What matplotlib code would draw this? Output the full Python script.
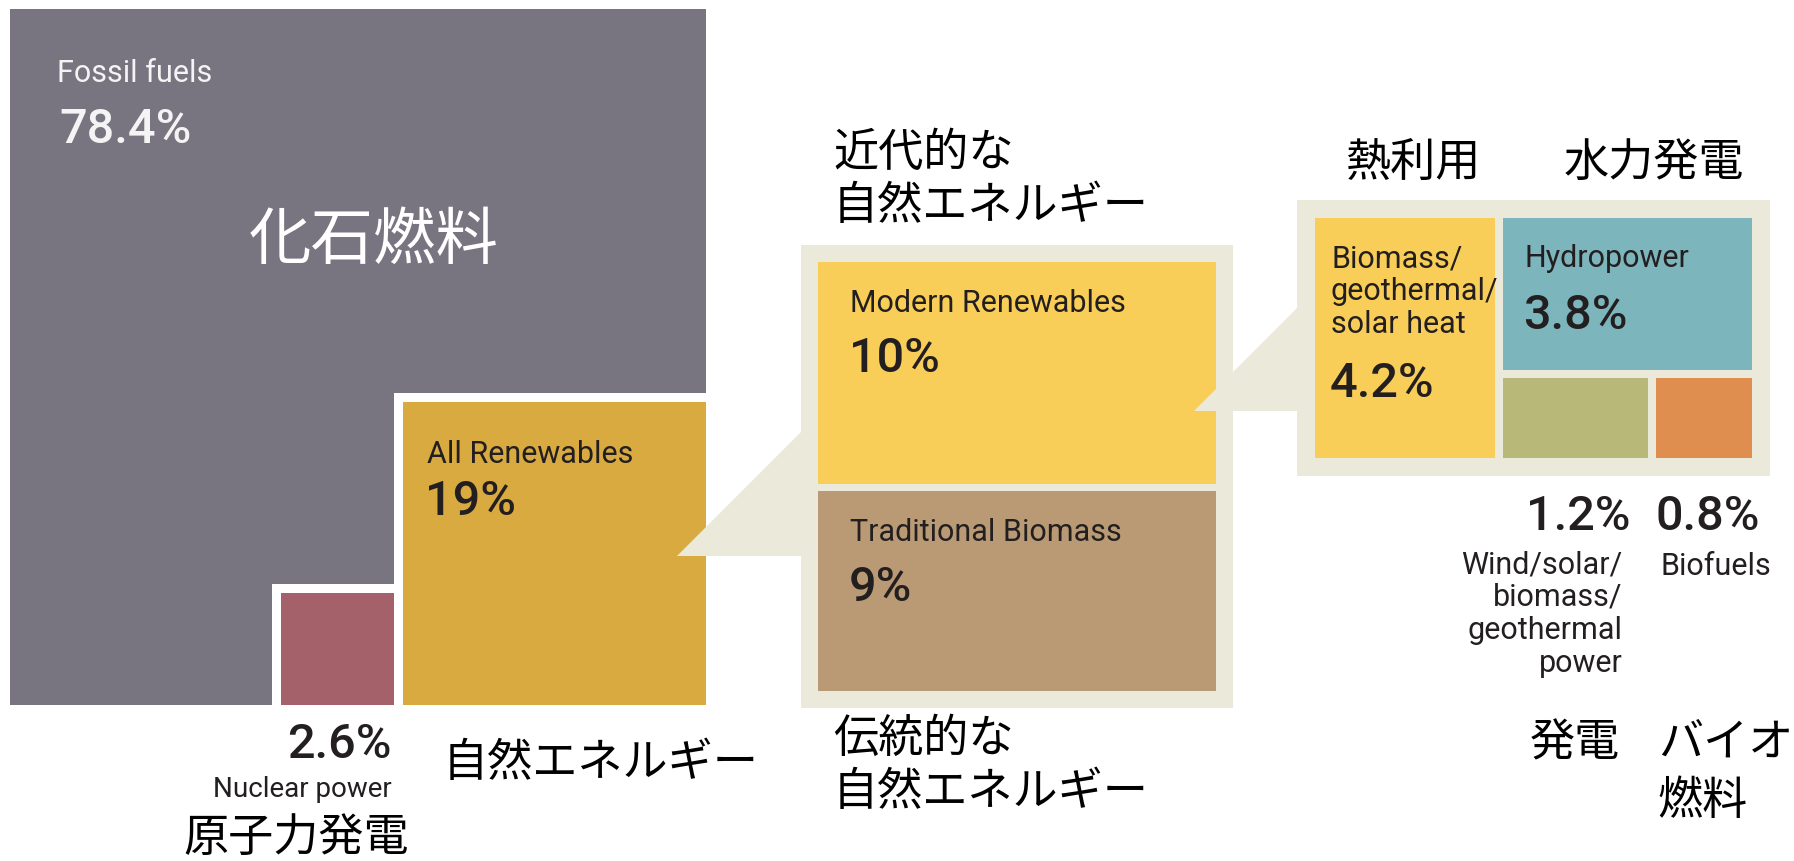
import numpy as np
import matplotlib
matplotlib.use("Agg")
import matplotlib.pyplot as plt
from matplotlib.patches import Rectangle, Polygon

# ---- data: shares of global final energy consumption (%) ----
energy_labels = ["Fossil fuels", "Nuclear power", "All Renewables"]
energy_shares = [78.4, 2.6, 19.0]
energy_labels_ja = ["化石燃料", "原子力発電", "自然エネルギー"]

renew_labels = ["Modern Renewables", "Traditional Biomass"]
renew_shares = [10.0, 9.0]
renew_labels_ja = ["近代的な\n自然エネルギー", "伝統的な\n自然エネルギー"]

modern_labels = ["Biomass/\ngeothermal/\nsolar heat", "Hydropower",
                 "Wind/solar/\nbiomass/\ngeothermal\npower", "Biofuels"]
modern_shares = [4.2, 3.8, 1.2, 0.8]
modern_labels_ja = ["熱利用", "水力発電", "発電", "バイオ\n燃料"]

# ---- style ----
C_FOSSIL = "#787581"
C_NUC = "#a4616a"
C_GOLD = "#d9aa40"
C_BEIGE = "#ebe9d9"
C_MODERN = "#f8cd58"
C_TRAD = "#b99a74"
C_HYDRO = "#7cb5bc"
C_OLIVE = "#b8b979"
C_ORANGE = "#e08e50"
C_TEXT = "#231f20"
C_LIGHT = "#f4f4f4"

EN = ["Roboto", "DejaVu Sans"]
JA = ["Noto Sans CJK JP", "DejaVu Sans"]
FS_LAB = 22
FS_PCT = 35
FS_JA = 32.5

W, H = 1794, 861
fig = plt.figure(figsize=(W / 100, H / 100), dpi=100)
ax = fig.add_axes([0, 0, 1, 1])
ax.set_xlim(0, W)
ax.set_ylim(H, 0)
ax.axis("off")


def pct(v):
    return f"{v:g}%"


def label(x, y, s, size=FS_LAB, color=C_TEXT, ha="left", weight="normal"):
    ax.text(x, y, s, fontsize=size, color=color, ha=ha, va="baseline",
            family=EN, fontweight=weight, zorder=10)


def label_lines(x, y, s, pitch=33, **kw):
    for i, line in enumerate(s.split("\n")):
        label(x, y + i * pitch, line, **kw)


def ja(x, y, s, pitch=53, size=FS_JA, color="black", ha="left"):
    for i, line in enumerate(s.split("\n")):
        ax.text(x, y + i * pitch, line, fontsize=size, color=color, ha=ha,
                va="top", family=JA, zorder=10)


def box(x, y, w, h, color, z=2):
    ax.add_patch(Rectangle((x, y), w, h, facecolor=color, edgecolor="none", zorder=z))


# ---- panel 1: total energy, area-proportional squares ----
P1_X, P1_Y, P1_S = 10, 9, 696
GAP1 = 9
total = sum(energy_shares)
ren_s = P1_S * np.sqrt(energy_shares[2] / total)
nuc_s = P1_S * np.sqrt(energy_shares[1] / total)
ren_x, ren_y = P1_X + P1_S - ren_s, P1_Y + P1_S - ren_s
nuc_x, nuc_y = ren_x - GAP1 - nuc_s, P1_Y + P1_S - nuc_s

box(P1_X, P1_Y, P1_S, P1_S, C_FOSSIL, z=1)
box(ren_x - GAP1, ren_y - GAP1, ren_s + GAP1, ren_s + GAP1, "white", z=1.5)
box(nuc_x - GAP1, nuc_y - GAP1, nuc_s + GAP1, nuc_s + GAP1, "white", z=1.5)
box(nuc_x, nuc_y, nuc_s, nuc_s, C_NUC)
box(ren_x, ren_y, ren_s, ren_s, C_GOLD)

label(P1_X + 47, P1_Y + 73, energy_labels[0], color=C_LIGHT)
label(P1_X + 49, P1_Y + 134, pct(energy_shares[0]), size=FS_PCT, color=C_LIGHT, weight="medium")
ja(374, 209, energy_labels_ja[0], size=45, color="white", ha="center")

nuc_r = nuc_x + nuc_s - 2
label(nuc_r, P1_Y + P1_S + 53, pct(energy_shares[1]), size=FS_PCT, ha="right", weight="medium")
label(nuc_r, P1_Y + P1_S + 92, energy_labels[1], size=20, ha="right")
ja(183, 815, energy_labels_ja[1])

label(ren_x + 24, ren_y + 61, energy_labels[2])
label(ren_x + 22, ren_y + 113, pct(energy_shares[2]), size=FS_PCT, weight="medium")
ja(443, 740, energy_labels_ja[2])

# ---- panel 2: renewables split, heights proportional to share ----
P2_X, P2_Y, P2_W, P2_H = 818, 262, 398, 429
PAD2, GAP2 = 17, 7
TIP1 = (677, 556)
b2_left = P2_X - PAD2
ax.add_patch(Polygon([TIP1, (b2_left + 1, TIP1[1]), (b2_left + 1, TIP1[1] - (b2_left + 1 - TIP1[0]))],
                     closed=True, facecolor=C_BEIGE, edgecolor="none", zorder=3))
box(b2_left, P2_Y - PAD2, P2_W + 2 * PAD2, P2_H + 2 * PAD2, C_BEIGE, z=3)

hs = [(P2_H - GAP2) * v / sum(renew_shares) for v in renew_shares]
ys = [P2_Y, P2_Y + hs[0] + GAP2]
for y, h, c, name, v in zip(ys, hs, [C_MODERN, C_TRAD], renew_labels, renew_shares):
    box(P2_X, y, P2_W, h, c, z=4)
    label(P2_X + 32, y + 50, name)
    label(P2_X + 31, y + 110, pct(v), size=FS_PCT, weight="medium")

ja(833, 130, renew_labels_ja[0])
ja(833, 716, renew_labels_ja[1])

# ---- panel 3: modern renewables treemap ----
P3_X, P3_Y, P3_W, P3_H = 1315, 218, 437, 240
PAD3, GAP3 = 18, 8
TIP2 = (1194, 411)
b3_left = P3_X - PAD3
ax.add_patch(Polygon([TIP2, (b3_left + 1, TIP2[1]), (b3_left + 1, TIP2[1] - (b3_left + 1 - TIP2[0]))],
                     closed=True, facecolor=C_BEIGE, edgecolor="none", zorder=5))
box(b3_left, P3_Y - PAD3, P3_W + 2 * PAD3, P3_H + 2 * PAD3, C_BEIGE, z=5)

m_tot = sum(modern_shares)
rest = sum(modern_shares[1:])
c1_w = (P3_W - GAP3) * modern_shares[0] / m_tot
c2_x = P3_X + c1_w + GAP3
c2_w = P3_W - c1_w - GAP3
hy_h = (P3_H - GAP3) * modern_shares[1] / rest
row_y = P3_Y + hy_h + GAP3
row_h = P3_H - hy_h - GAP3
ol_w = (c2_w - GAP3) * modern_shares[2] / (modern_shares[2] + modern_shares[3])
or_x = c2_x + ol_w + GAP3
or_w = c2_w - ol_w - GAP3

box(P3_X, P3_Y, c1_w, P3_H, C_MODERN, z=6)
box(c2_x, P3_Y, c2_w, hy_h, C_HYDRO, z=6)
box(c2_x, row_y, ol_w, row_h, C_OLIVE, z=6)
box(or_x, row_y, or_w, row_h, C_ORANGE, z=6)

label_lines(P3_X + 16, P3_Y + 49, modern_labels[0])
label(P3_X + 15, P3_Y + 179, pct(modern_shares[0]), size=FS_PCT, weight="medium")
label(c2_x + 21, P3_Y + 49, modern_labels[1])
label(c2_x + 20, P3_Y + 111, pct(modern_shares[1]), size=FS_PCT, weight="medium")

below = P3_Y + P3_H + PAD3
label(c2_x + ol_w - 17, below + 54, pct(modern_shares[2]), size=FS_PCT, ha="right", weight="medium")
label_lines(c2_x + ol_w - 25, below + 97, modern_labels[2], ha="right")
label(or_x, below + 54, pct(modern_shares[3]), size=FS_PCT, weight="medium")
label(or_x + 5, below + 99, modern_labels[3])

ja(1345, 140, modern_labels_ja[0])
ja(1564, 140, modern_labels_ja[1])
ja(1620, 720, modern_labels_ja[2], ha="right")
ja(1658, 721, modern_labels_ja[3], pitch=57)

fig.savefig("out.png", dpi=100, facecolor="white")
